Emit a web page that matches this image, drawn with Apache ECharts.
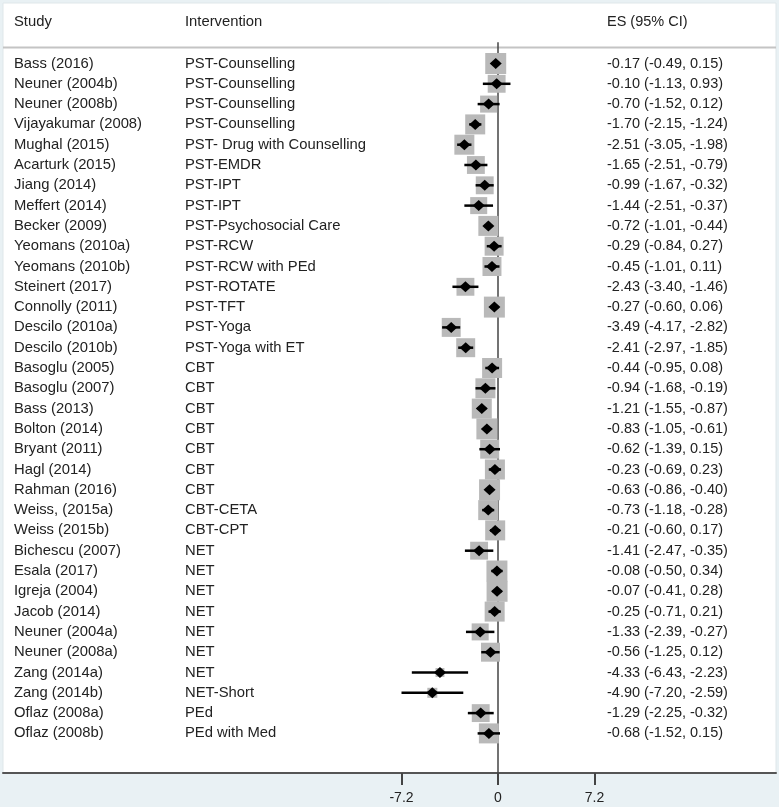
<!DOCTYPE html>
<html>
<head>
<meta charset="utf-8">
<script src="https://cdn.jsdelivr.net/npm/echarts@6/dist/echarts.min.js"></script>
<style>
html,body{margin:0;padding:0;background:#e9f1f4;}
#chart{width:779px;height:807px;}
</style>
</head>
<body>
<div id="chart"></div>
<script>
const studies = ["Bass (2016)","Neuner (2004b)","Neuner (2008b)","Vijayakumar (2008)","Mughal (2015)","Acarturk (2015)","Jiang (2014)","Meffert (2014)","Becker (2009)","Yeomans (2010a)","Yeomans (2010b)","Steinert (2017)","Connolly (2011)","Descilo (2010a)","Descilo (2010b)","Basoglu (2005)","Basoglu (2007)","Bass (2013)","Bolton (2014)","Bryant (2011)","Hagl (2014)","Rahman (2016)","Weiss, (2015a)","Weiss (2015b)","Bichescu (2007)","Esala (2017)","Igreja (2004)","Jacob (2014)","Neuner (2004a)","Neuner (2008a)","Zang (2014a)","Zang (2014b)","Oflaz (2008a)","Oflaz (2008b)"];
const interventions = ["PST-Counselling","PST-Counselling","PST-Counselling","PST-Counselling","PST- Drug with Counselling","PST-EMDR","PST-IPT","PST-IPT","PST-Psychosocial Care","PST-RCW","PST-RCW with PEd","PST-ROTATE","PST-TFT","PST-Yoga","PST-Yoga with ET","CBT","CBT","CBT","CBT","CBT","CBT","CBT","CBT-CETA","CBT-CPT","NET","NET","NET","NET","NET","NET","NET","NET-Short","PEd","PEd with Med"];
const es = [-0.17,-0.10,-0.70,-1.70,-2.51,-1.65,-0.99,-1.44,-0.72,-0.29,-0.45,-2.43,-0.27,-3.49,-2.41,-0.44,-0.94,-1.21,-0.83,-0.62,-0.23,-0.63,-0.73,-0.21,-1.41,-0.08,-0.07,-0.25,-1.33,-0.56,-4.33,-4.90,-1.29,-0.68];
const lo = [-0.49,-1.13,-1.52,-2.15,-3.05,-2.51,-1.67,-2.51,-1.01,-0.84,-1.01,-3.40,-0.60,-4.17,-2.97,-0.95,-1.68,-1.55,-1.05,-1.39,-0.69,-0.86,-1.18,-0.60,-2.47,-0.50,-0.41,-0.71,-2.39,-1.25,-6.43,-7.20,-2.25,-1.52];
const hi = [0.15,0.93,0.12,-1.24,-1.98,-0.79,-0.32,-0.37,-0.44,0.27,0.11,-1.46,0.06,-2.82,-1.85,0.08,-0.19,-0.87,-0.61,0.15,0.23,-0.40,-0.28,0.17,-0.35,0.34,0.28,0.21,-0.27,0.12,-2.23,-2.59,-0.32,0.15];
const weights = [4.4,3.2,2.9,4.0,4.0,3.2,3.2,2.9,4.0,3.6,3.6,3.2,4.4,3.6,3.6,4.0,4.0,4.0,4.4,3.6,4.0,4.4,4.0,4.0,3.2,4.4,4.4,4.0,2.9,3.6,0.8,1.0,3.2,4.0];
const xTicks = [-7.2, 0, 7.2];
const headers = ["Study","Intervention","ES (95% CI)"];

const FONT = '"Liberation Sans", Arial, sans-serif';
const TXT = '#222222';
const F1 = '14.8px ' + FONT;
const F2 = '14.5px ' + FONT;
const pxPerUnit = 96.5 / 7.2;
const xMin = -495 / pxPerUnit, xMax = 278 / pxPerUnit;
const rowPx = 20.3;
const yMin = -60.5 / rowPx, yMax = yMin + 770 / rowPx;

const fmt = v => v.toFixed(2);
const markData = es.map((v, i) => [v, i, lo[i], hi[i], weights[i]]);
const textData = studies.map((s, i) => [0, i]);

const chart = echarts.init(document.getElementById('chart'));
chart.setOption({
  backgroundColor: '#e9f1f4',
  animation: false,
  grid: {left: 3, right: 3, top: 3, bottom: 34, show: true, backgroundColor: '#ffffff', borderColor: '#dfe7ea', borderWidth: 1},
  xAxis: {
    type: 'value', min: xMin, max: xMax,
    splitLine: {show: false},
    axisLine: {show: true, onZero: false, lineStyle: {color: '#555', width: 2}},
    axisTick: {show: true, customValues: xTicks, length: 12, lineStyle: {color: '#444', width: 2}},
    axisLabel: {customValues: xTicks, formatter: v => String(v), margin: 18, fontSize: 14, color: TXT, fontFamily: FONT}
  },
  yAxis: {type: 'value', inverse: true, min: yMin, max: yMax, show: false},
  graphic: [
    {type: 'text', x: 14, y: 21.5, style: {text: headers[0], fill: TXT, font: F1, verticalAlign: 'middle'}},
    {type: 'text', x: 185, y: 21.5, style: {text: headers[1], fill: TXT, font: F1, verticalAlign: 'middle'}},
    {type: 'text', x: 607, y: 21.5, style: {text: headers[2], fill: TXT, font: F2, verticalAlign: 'middle'}},
    {type: 'line', shape: {x1: 3, y1: 47.5, x2: 776, y2: 47.5}, style: {stroke: '#c4c4c4', lineWidth: 2}, z: 1}
  ],
  series: [
    {
      type: 'line', data: [[0, -1.05], [0, yMax]], symbol: 'none', silent: true,
      lineStyle: {color: '#444', width: 1.5}, z: 2
    },
    {
      type: 'custom', data: markData, encode: {x: 0, y: 1}, z: 3, clip: false,
      renderItem: function (params, api) {
        const i = api.value(1);
        const p = api.coord([api.value(0), i]);
        const pl = api.coord([api.value(2), i]);
        const ph = api.coord([api.value(3), i]);
        const s = 10 * Math.sqrt(api.value(4));
        const x = p[0], y = p[1];
        return {
          type: 'group',
          children: [
            {type: 'rect', shape: {x: x - s / 2, y: y - s / 2, width: s, height: s}, style: {fill: '#b9b9b9'}},
            {type: 'line', shape: {x1: pl[0], y1: y, x2: ph[0], y2: y}, style: {stroke: '#000', lineWidth: 2.5}},
            {type: 'polygon', shape: {points: [[x - 6, y], [x, y - 5.5], [x + 6, y], [x, y + 5.5]]}, style: {fill: '#000'}}
          ]
        };
      }
    },
    {
      type: 'custom', data: textData, encode: {x: 0, y: 1}, z: 4, clip: false, silent: true,
      renderItem: function (params, api) {
        const i = api.value(1);
        const y = api.coord([0, i])[1];
        const st = (t, f) => ({text: t, fill: TXT, font: f, verticalAlign: 'middle', align: 'left'});
        return {
          type: 'group',
          children: [
            {type: 'text', x: 14, y: y, style: st(studies[i], F1)},
            {type: 'text', x: 185, y: y, style: st(interventions[i], F1)},
            {type: 'text', x: 607, y: y, style: st(fmt(es[i]) + ' (' + fmt(lo[i]) + ', ' + fmt(hi[i]) + ')', F2)}
          ]
        };
      }
    }
  ]
});
</script>
</body>
</html>
